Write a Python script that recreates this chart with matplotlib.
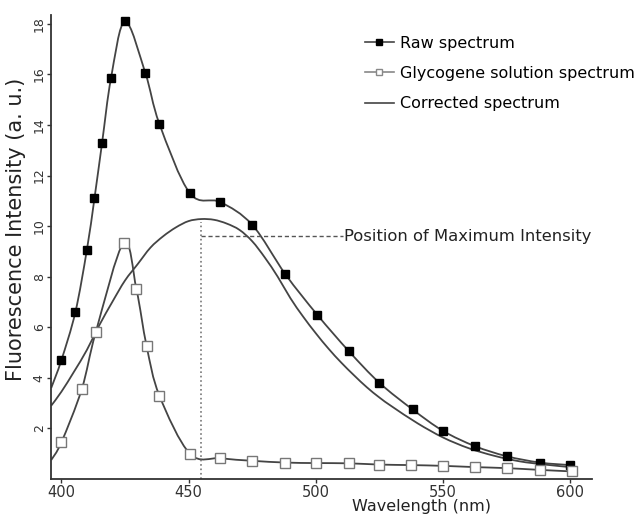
import numpy as np
import matplotlib
matplotlib.use("Agg")
import matplotlib.pyplot as plt
from matplotlib.path import Path
from matplotlib.patches import PathPatch
from matplotlib.lines import Line2D

# raw spectrum (filled squares)
raw_nm = [400, 405.5, 410, 413, 416, 419.5, 425, 433, 438.5, 450.5, 462.5,
          475, 488, 500.5, 513, 525, 538, 550, 562.5, 575, 588, 600]
raw_int = [4.7, 6.6, 9.05, 11.1, 13.3, 15.85, 18.1, 16.05, 14.05, 11.3, 10.95,
           10.05, 8.1, 6.5, 5.05, 3.8, 2.75, 1.9, 1.3, 0.9, 0.65, 0.55]
raw_start = (396, 3.6)

# glycogene solution spectrum (open squares)
gly_nm = [400, 408, 413.5, 424.5, 429.5, 433.5, 438.5, 450.5, 462.5, 475, 488,
          500, 513, 525, 537.5, 550, 562.5, 575, 588, 600.5]
gly_int = [1.45, 3.55, 5.8, 9.35, 7.5, 5.25, 3.3, 1.0, 0.82, 0.72, 0.65,
           0.63, 0.62, 0.57, 0.55, 0.52, 0.47, 0.43, 0.36, 0.3]
gly_start = (396, 0.75)

# corrected spectrum (line only)
cor_nm = [396, 400, 405, 410, 415, 420, 425, 430, 435, 440, 445, 450, 455,
          460, 465, 470, 475, 480, 485, 490, 495, 500, 505, 510, 515, 520,
          525, 530, 540, 550, 560, 570, 580, 590, 600]
cor_int = [2.9, 3.45, 4.25, 5.1, 6.1, 7.0, 7.85, 8.5, 9.15, 9.6, 9.95, 10.2, 10.28,
           10.25, 10.1, 9.85, 9.4, 8.75, 8.0, 7.15, 6.42, 5.76, 5.15, 4.6, 4.1, 3.63,
           3.22, 2.86, 2.2, 1.64, 1.22, 0.92, 0.7, 0.57, 0.47]

max_nm = 455
max_line_y = 9.6
max_top = 10.15

LINE = "#444444"


def smooth_path(xs, ys):
    # Catmull-Rom through the points, drawn as cubic bezier segments
    pts = np.column_stack([xs, ys]).astype(float)
    verts = [pts[0]]
    codes = [Path.MOVETO]
    n = len(pts)
    for i in range(n - 1):
        p0 = pts[i - 1] if i > 0 else pts[i]
        p1 = pts[i]
        p2 = pts[i + 1]
        p3 = pts[i + 2] if i + 2 < n else pts[i + 1]
        verts += [p1 + (p2 - p0) / 6, p2 - (p3 - p1) / 6, p2]
        codes += [Path.CURVE4] * 3
    return Path(verts, codes)


fig = plt.figure(figsize=(6.4, 5.17), dpi=100)
ax = fig.add_axes([0.08, 0.0735, 0.845, 0.8975])

for xs, ys in [([raw_start[0]] + raw_nm, [raw_start[1]] + raw_int),
               ([gly_start[0]] + gly_nm, [gly_start[1]] + gly_int),
               (cor_nm, cor_int)]:
    ax.add_patch(PathPatch(smooth_path(xs, ys), fill=False, edgecolor=LINE,
                           lw=1.3, zorder=2))

ax.plot(raw_nm, raw_int, ls="none", marker="s", ms=6, mfc="black", mec="black", zorder=3)
ax.plot(gly_nm, gly_int, ls="none", marker="s", ms=6.5, mfc="white", mec="#777777",
        mew=1.0, zorder=3)

ax.plot([max_nm, max_nm], [0, max_top], color="#777777", ls=":", lw=1.2)
ax.plot([max_nm, 510.5], [max_line_y, max_line_y], color="#555555", ls=(0, (3, 2)), lw=1.0)
ax.text(511, max_line_y, "Position of Maximum Intensity", fontsize=11.8,
        va="center", ha="left", color="#222222")

ax.set_xlim(396, 608.5)
ax.set_ylim(0, 18.35)
ax.set_xticks([400, 450, 500, 550, 600])
ax.set_yticks([2, 4, 6, 8, 10, 12, 14, 16, 18])
ax.tick_params(axis="both", direction="out", length=3, width=1, colors="#333333",
               pad=1)
ax.tick_params(axis="x", labelsize=10.5)
ax.tick_params(axis="y", labelsize=9)
for lab in ax.get_yticklabels():
    lab.set_rotation(90)
    lab.set_va("center")
for s in ["top", "right"]:
    ax.spines[s].set_visible(False)
for s in ["left", "bottom"]:
    ax.spines[s].set_color("#333333")
    ax.spines[s].set_linewidth(1.3)

ax.set_xlabel("Wavelength (nm)", fontsize=11.5, color="#222222")
ax.xaxis.set_label_coords(0.684, -0.043)
ax.set_ylabel("Fluorescence Intensity (a. u.)", fontsize=15, color="#222222")
ax.yaxis.set_label_coords(-0.047, 0.537)

handles = [
    Line2D([], [], color=LINE, lw=1.2, marker="s", ms=4.5, mfc="black", mec="black"),
    Line2D([], [], color="#888888", lw=1.2, marker="s", ms=4.5, mfc="white", mec="#888888"),
    Line2D([], [], color=LINE, lw=1.2),
]
ax.legend(handles, ["Raw spectrum", "Glycogene solution spectrum", "Corrected spectrum"],
          loc="upper left", bbox_to_anchor=(0.58, 0.955), frameon=False,
          fontsize=11.5, handlelength=1.8, handletextpad=0.4, labelspacing=0.95,
          borderaxespad=0, borderpad=0)

fig.savefig("out.png", dpi=100)
